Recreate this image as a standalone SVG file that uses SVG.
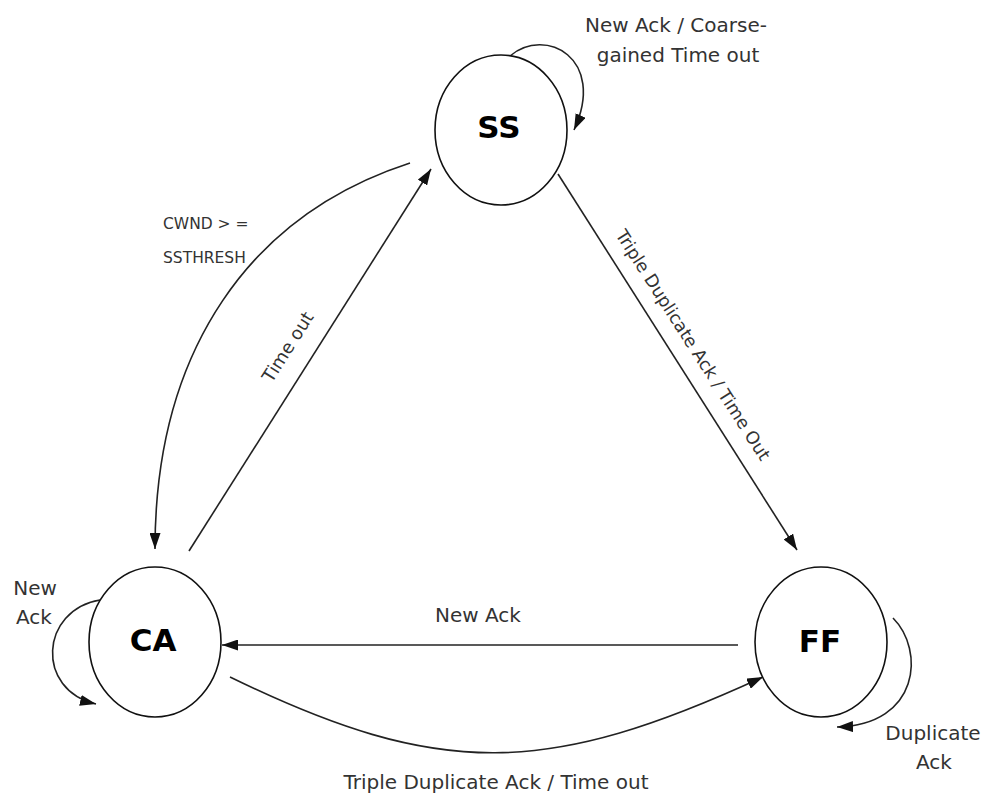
<svg xmlns="http://www.w3.org/2000/svg" width="985" height="793" viewBox="0 0 985 793">
  <defs>
    <marker id="arrow" viewBox="0 0 16 11" refX="16" refY="5.5" markerWidth="16" markerHeight="11" markerUnits="userSpaceOnUse" orient="auto">
      <path d="M0,0 L16,5.5 L0,11 Z" fill="#111"/>
    </marker>
  </defs>
  <style>
    .state { fill: #fff; stroke: #111; stroke-width: 1.6; }
    .name { font-family: "DejaVu Sans", Verdana, sans-serif; font-weight: bold; font-size: 31px; fill: #000; text-anchor: middle; }
    .edge { fill: none; stroke: #222; stroke-width: 1.6; marker-end: url(#arrow); }
    .lbl { font-family: "DejaVu Sans", Verdana, sans-serif; font-size: 20px; fill: #333; text-anchor: middle; }
    .lbl-s { font-family: "DejaVu Sans", Verdana, sans-serif; font-size: 15.5px; fill: #333; }
  </style>
  <rect width="985" height="793" fill="#fff"/>

  <!-- transitions -->
  <g id="connectors">
    <!-- SS self-loop -->
    <path class="edge" d="M510,56 C545,26 607,58 574,130"/>
    <!-- SS -> CA -->
    <path class="edge" d="M410,163 C250,215 155,350 155,549"/>
    <!-- CA -> SS -->
    <path class="edge" d="M189,551 L431,169"/>
    <!-- SS -> FF -->
    <path class="edge" d="M558,174 L797,550"/>
    <!-- FF -> CA -->
    <path class="edge" d="M738,645 L222,645"/>
    <!-- CA -> FF -->
    <path class="edge" d="M230,677 C441,780 548,776 763,677"/>
    <!-- CA self-loop -->
    <path class="edge" d="M100,600 C40,610 35,690 96,704"/>
    <!-- FF self-loop -->
    <path class="edge" d="M893,618 C925,650 920,725 837,727"/>

    <text class="lbl" x="676" y="32">New Ack / Coarse-</text>
    <text class="lbl" x="678" y="62">gained Time out</text>
    <text class="lbl-s" x="163" y="229">CWND &gt; =</text>
    <text class="lbl-s" x="163" y="263">SSTHRESH</text>
    <text class="lbl" transform="translate(288,347) rotate(-57.6)" x="0" y="6" style="font-size:18px">Time out</text>
    <text class="lbl" transform="translate(693,345) rotate(57.3)" x="0" y="6" style="font-size:17.5px">Triple Duplicate Ack / Time Out</text>
    <text class="lbl" x="478" y="622">New Ack</text>
    <text class="lbl" x="496" y="789">Triple Duplicate Ack / Time out</text>
    <text class="lbl" x="35" y="595">New</text>
    <text class="lbl" x="34" y="624">Ack</text>
    <text class="lbl" x="933" y="740">Duplicate</text>
    <text class="lbl" x="934" y="769">Ack</text>
  </g>

  <g id="node-ss">
    <ellipse class="state" cx="501" cy="130" rx="66" ry="75"/>
    <text class="name" x="499" y="138">SS</text>
  </g>
  <g id="node-ca">
    <ellipse class="state" cx="155" cy="642" rx="66" ry="75"/>
    <text class="name" x="153" y="651">CA</text>
  </g>
  <g id="node-ff">
    <ellipse class="state" cx="821" cy="642" rx="66" ry="75"/>
    <text class="name" x="820" y="652">FF</text>
  </g>
</svg>
